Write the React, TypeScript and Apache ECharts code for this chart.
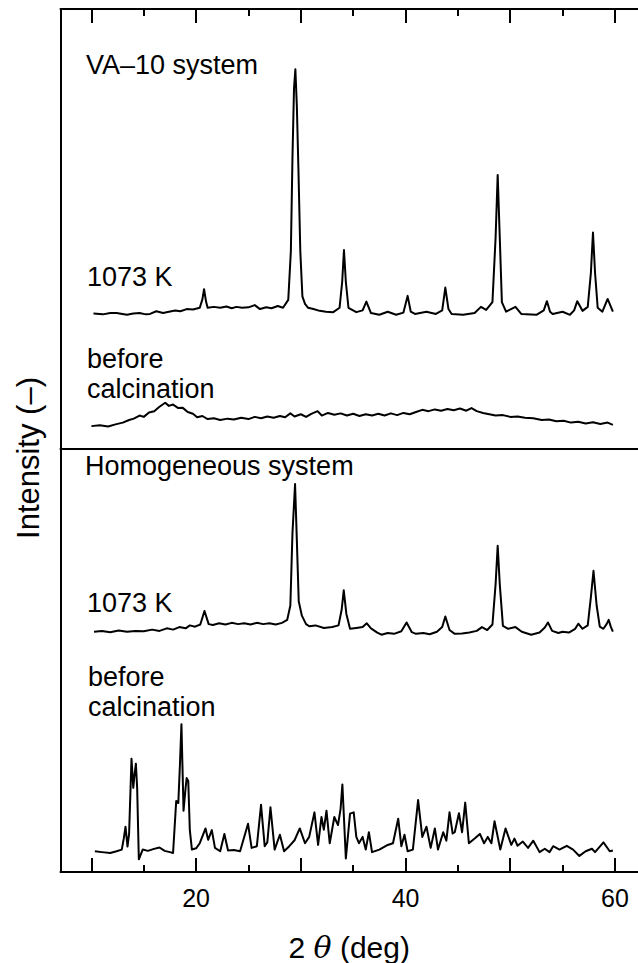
import React, { useEffect, useRef } from "react";
import * as echarts from "echarts";

// ---- data (2θ in deg, intensity in arbitrary panel units 0..100) ----
const va1073: [number, number][] = [
  [10.2, 30.8], [11.1, 30.6], [11.8, 30.9], [12.4, 30.9], [13.4, 30.5], [14.0, 30.8], [14.6, 30.9],
  [15.2, 30.6], [15.6, 30.7], [16.2, 31.3], [16.85, 30.9], [17.4, 31.2], [18.0, 31.5], [18.5, 31.3],
  [19.1, 31.8], [19.7, 31.7], [20.35, 32.1], [20.6, 34], [20.76, 36.3], [20.95, 33.5], [21.1, 32.1],
  [21.7, 32.3], [22.3, 32.1], [22.9, 32.4], [23.4, 32.0], [23.85, 32.3], [24.4, 32.1], [25.0, 32.2],
  [25.6, 32.7], [26.1, 31.8], [26.7, 32.2], [27.2, 32.0], [27.8, 32.5], [28.3, 32.1], [28.8, 33.9],
  [29.05, 45], [29.2, 66], [29.35, 82], [29.48, 86.3], [29.62, 78], [29.77, 63.7], [29.95, 45],
  [30.15, 34.7], [30.4, 33.0], [30.7, 32.1], [31.2, 31.8], [31.8, 31.4], [32.4, 31.2], [33.1, 31.1],
  [33.7, 32.1], [33.95, 38], [34.12, 45.2], [34.3, 38], [34.55, 32.1], [35.3, 31.1], [35.9, 31.5],
  [36.26, 33.5], [36.7, 30.9], [37.5, 30.5], [38.3, 31.2], [39.1, 30.5], [39.8, 31.0], [40.2, 34.8],
  [40.5, 31.2], [40.9, 30.7], [42.0, 31.2], [42.9, 30.7], [43.5, 31.5], [43.8, 36.7], [44.1, 31.8],
  [44.4, 30.7], [45.5, 30.5], [46.6, 30.9], [47.2, 32.3], [47.7, 31.6], [48.3, 33.4], [48.6, 48],
  [48.8, 62.3], [49.0, 48], [49.2, 33.4], [49.6, 31.2], [50.5, 32.3], [51.05, 30.7], [52.5, 30.5],
  [53.2, 31.5], [53.5, 33.6], [53.8, 31.2], [54.05, 30.7], [55.0, 31.2], [55.7, 30.5], [56.1, 31.5],
  [56.4, 33.6], [56.9, 31.4], [57.4, 32.3], [57.7, 40], [57.9, 49.2], [58.1, 40], [58.35, 32.1],
  [58.8, 31.2], [59.3, 34.1], [59.8, 31.2],
];

const vaBefore: [number, number][] = [
  [10.0, 5.2], [10.8, 5.4], [11.6, 5.1], [12.3, 5.6], [13.0, 6.0], [13.6, 6.6], [14.05, 6.9],
  [14.6, 7.6], [15.0, 7.3], [15.5, 8.3], [16.0, 8.6], [16.5, 9.6], [17.05, 10.5], [17.4, 9.8],
  [17.8, 10.1], [18.3, 9.3], [18.7, 9.4], [19.2, 8.4], [19.7, 8.0], [20.1, 7.2], [20.6, 7.5],
  [21.1, 6.8], [21.7, 7.0], [22.3, 6.6], [23.0, 6.9], [23.6, 6.7], [24.3, 7.1], [25.0, 6.8],
  [25.6, 7.3], [26.2, 7.0], [26.8, 7.4], [27.4, 7.1], [28.0, 7.5], [28.5, 7.2], [29.0, 8.1],
  [29.4, 7.4], [30.0, 7.9], [30.5, 7.3], [31.0, 8.0], [31.6, 8.6], [32.0, 7.6], [32.6, 8.2],
  [33.2, 7.8], [33.8, 8.1], [34.4, 7.6], [35.0, 8.0], [35.6, 7.5], [36.2, 7.9], [36.8, 7.6],
  [37.4, 8.0], [38.0, 7.6], [38.6, 8.1], [39.2, 7.7], [39.8, 8.2], [40.4, 7.9], [41.0, 8.4],
  [41.6, 8.9], [42.2, 8.6], [42.8, 9.0], [43.4, 8.7], [44.0, 9.1], [44.6, 8.8], [45.2, 9.2],
  [45.8, 8.7], [46.3, 9.3], [46.8, 8.6], [47.4, 8.2], [48.0, 7.9], [48.6, 7.6], [49.3, 7.7],
  [50.0, 7.3], [50.7, 7.4], [51.4, 7.1], [52.2, 7.0], [53.0, 6.6], [53.7, 6.7], [54.4, 6.3],
  [55.1, 6.4], [55.8, 6.0], [56.5, 6.2], [57.2, 5.8], [57.9, 6.1], [58.6, 5.7], [59.3, 6.0],
  [59.8, 5.5],
];

const homo1073: [number, number][] = [
  [10.25, 56.8], [11.0, 57.0], [11.8, 56.7], [12.6, 57.1], [13.4, 56.8], [14.2, 57.0], [15.0, 56.9],
  [15.8, 57.3], [16.5, 57.0], [17.2, 57.6], [17.8, 57.3], [18.4, 57.9], [19.0, 57.6], [19.4, 58.3],
  [19.9, 58.0], [20.4, 58.5], [20.8, 61.7], [21.2, 58.6], [21.6, 58.4], [22.2, 58.8], [22.8, 58.5],
  [23.4, 58.9], [24.0, 58.6], [24.6, 58.8], [25.2, 58.5], [25.8, 58.9], [26.4, 58.6], [27.0, 58.8],
  [27.6, 58.5], [28.2, 58.9], [28.7, 59.6], [29.0, 63], [29.2, 80], [29.45, 91.7], [29.6, 80],
  [29.8, 64], [30.1, 60.6], [30.5, 58.6], [30.8, 58.1], [31.4, 58.3], [32.2, 57.7], [33.0, 57.9],
  [33.6, 58.3], [33.9, 62], [34.1, 66.6], [34.35, 61], [34.7, 57.5], [35.3, 57.7], [35.9, 57.9],
  [36.3, 58.8], [36.7, 57.6], [37.3, 56.6], [37.7, 56.1], [38.3, 56.5], [38.9, 56.3], [39.6, 56.9],
  [40.1, 59.0], [40.6, 56.7], [41.0, 56.3], [41.7, 56.5], [42.3, 56.2], [43.0, 56.8], [43.5, 57.9],
  [43.8, 60.4], [44.2, 57.2], [44.7, 56.3], [45.4, 56.4], [46.1, 56.6], [46.8, 57.0], [47.3, 57.9],
  [47.8, 57.2], [48.3, 58.5], [48.6, 68], [48.8, 77.1], [49.0, 68], [49.3, 58.2], [49.8, 57.5],
  [50.5, 57.9], [51.1, 56.8], [52.0, 56.1], [52.8, 56.6], [53.3, 57.8], [53.6, 59.0], [54.0, 57.0],
  [54.6, 56.5], [55.0, 56.8], [55.6, 56.6], [56.2, 57.5], [56.5, 58.7], [56.9, 57.5], [57.4, 58.3],
  [57.7, 65], [57.95, 71.2], [58.25, 63], [58.55, 58.0], [58.9, 57.5], [59.2, 58.6], [59.4, 59.6],
  [59.6, 58.0], [59.8, 56.8],
];

const homoBefore: [number, number][] = [
  [10.33, 4.9], [11.0, 4.7], [11.8, 4.5], [12.4, 4.9], [12.9, 5.3], [13.1, 8], [13.26, 10.7],
  [13.45, 6], [13.6, 9], [13.83, 26.8], [14.0, 19.9], [14.12, 23], [14.25, 25.6], [14.37, 19.9],
  [14.53, 3.0], [14.9, 5.3], [15.4, 5.0], [15.9, 5.4], [16.5, 5.8], [17.0, 5.0], [17.5, 4.7],
  [17.8, 4.5], [18.1, 16.8], [18.3, 16.3], [18.45, 25], [18.6, 34.9], [18.8, 14.5], [19.0, 20],
  [19.1, 22.2], [19.25, 21.5], [19.4, 9.9], [19.6, 5.3], [20.0, 5.6], [20.35, 6.8], [20.9, 10.3],
  [21.15, 7.6], [21.5, 9.9], [21.8, 5.7], [22.3, 4.9], [22.7, 9.0], [23.05, 5.1], [23.6, 5.2],
  [24.2, 4.9], [24.96, 11.4], [25.3, 5.7], [25.8, 6.1], [26.2, 15.9], [26.55, 6.1], [26.8, 7],
  [27.1, 15.3], [27.5, 5.3], [28.0, 8.8], [28.4, 4.9], [28.9, 6.1], [29.4, 7.5], [29.9, 10.3],
  [30.4, 6.8], [30.8, 8.3], [31.3, 14.1], [31.65, 6.4], [31.97, 13.0], [32.2, 10], [32.45, 14.5],
  [32.76, 6.8], [33.2, 13.0], [33.55, 11.1], [33.8, 15], [33.97, 20.7], [34.3, 3.2], [34.7, 13.8],
  [35.05, 14.1], [35.3, 8.3], [35.55, 6.8], [35.9, 8.3], [36.2, 5.3], [36.5, 9.4], [36.8, 4.7],
  [37.5, 5.3], [38.3, 6.4], [38.8, 6.8], [39.3, 12.6], [39.6, 6.1], [39.9, 8.8], [40.2, 4.9],
  [40.7, 5.3], [41.2, 17.0], [41.6, 8.3], [42.0, 10.7], [42.4, 5.7], [42.8, 10.3], [43.1, 5.3],
  [43.6, 9.4], [43.9, 7.4], [44.2, 14.1], [44.5, 9.1], [44.7, 9.4], [45.1, 13.9], [45.4, 9.4],
  [45.7, 16.4], [46.05, 6.8], [46.6, 7.9], [47.1, 9.0], [47.5, 6.8], [47.85, 8.3], [48.2, 6.8],
  [48.5, 12.0], [49.05, 5.3], [49.55, 10.3], [50.1, 6.4], [50.4, 7.9], [50.7, 6.2], [51.2, 7.2],
  [51.7, 5.7], [52.2, 7.4], [52.8, 4.7], [53.3, 5.5], [53.75, 4.7], [54.1, 6.1], [54.7, 5.3],
  [55.4, 6.2], [56.0, 5.3], [56.6, 3.8], [57.2, 4.9], [57.8, 5.5], [58.1, 4.7], [58.9, 7.0],
  [59.5, 4.9], [59.8, 5.1],
];

const majorTicks = [10, 20, 30, 40, 50, 60];
const minorTicks = [15, 25, 35, 45, 55];
const tickLabels = [20, 40, 60];

const FONT = '"Liberation Sans", Arial, Helvetica, sans-serif';

export default function App() {
  const ref = useRef<HTMLDivElement>(null);
  useEffect(() => {
    if (!ref.current) return;
    const chart = echarts.init(ref.current, undefined, { renderer: "svg" });
    const X_MIN = 7.05;
    const X_MAX = 62.2;
    const lineCol = "#000";
    const baseX = (grid: number, pos: "top" | "bottom") => ({
      type: "value" as const,
      gridIndex: grid,
      position: pos,
      min: X_MIN,
      max: X_MAX,
      splitLine: { show: false },
      axisLabel: { show: false },
      axisLine: { show: false, onZero: false, lineStyle: { color: lineCol, width: 2 } },
      axisTick: { show: false },
    });
    const majorTick = (len: number) => ({
      show: true, inside: true, length: len, customValues: majorTicks,
      lineStyle: { color: lineCol, width: 2 },
    });
    const minorTick = (len: number) => ({
      show: true, inside: true, length: len, customValues: minorTicks,
      lineStyle: { color: lineCol, width: 2 },
    });
    const lineSeries = (data: [number, number][], xi: number, yi: number) => ({
      type: "line" as const,
      data,
      xAxisIndex: xi,
      yAxisIndex: yi,
      showSymbol: false,
      symbol: "none",
      lineStyle: { color: lineCol, width: 2, join: "round" },
      silent: true,
    });
    const txt = (text: string, x: number, y: number) => ({
      type: "text" as const,
      x, y,
      style: { text, fontSize: 27, fontFamily: FONT, fill: "#000", align: "left", verticalAlign: "middle" },
    });
    chart.setOption({
      animation: false,
      backgroundColor: "#fff",
      grid: [
        { left: 60.5, top: 9, width: 578.2, height: 440 },
        { left: 60.5, top: 449, width: 578.2, height: 434.5 },
      ],
      xAxis: [
        { ...baseX(0, "top"), axisLine: { show: true, onZero: false, lineStyle: { color: lineCol, width: 2 } }, axisTick: majorTick(14) },
        { ...baseX(0, "top"), axisTick: minorTick(7) },
        { ...baseX(0, "bottom"), axisLine: { show: true, onZero: false, lineStyle: { color: lineCol, width: 2 } } },
        {
          ...baseX(1, "bottom"),
          axisLine: { show: true, onZero: false, lineStyle: { color: lineCol, width: 2 } },
          axisTick: majorTick(14),
          axisLabel: { show: true, customValues: tickLabels, fontSize: 25, fontFamily: FONT, color: "#000", margin: 13 },
          name: "2 {t|θ} (deg)",
          nameLocation: "middle",
          nameGap: 60,
          nameTextStyle: {
            fontSize: 30, fontFamily: FONT, color: "#000",
            rich: { t: { fontSize: 30, fontStyle: "italic", fontFamily: "DejaVu Serif", color: "#000" } },
          },
        },
        { ...baseX(1, "bottom"), axisTick: minorTick(7) },
      ],
      yAxis: [0, 1].map((g) => ({
        type: "value" as const,
        gridIndex: g,
        min: 0,
        max: 100,
        splitLine: { show: false },
        axisLabel: { show: false },
        axisTick: { show: false },
        axisLine: { show: true, onZero: false, lineStyle: { color: lineCol, width: 2 } },
      })),
      series: [
        lineSeries(va1073, 0, 0),
        lineSeries(vaBefore, 0, 0),
        lineSeries(homo1073, 3, 1),
        lineSeries(homoBefore, 3, 1),
      ],
      graphic: [
        txt("VA\u201310 system", 86, 64.5),
        txt("1073 K", 87, 276.5),
        txt("before", 87, 359),
        txt("calcination", 87, 389),
        txt("Homogeneous system", 85, 465.5),
        txt("1073 K", 87, 603),
        txt("before", 88, 677),
        txt("calcination", 88, 707),
        {
          type: "text",
          x: 28,
          y: 458,
          rotation: Math.PI / 2,
          style: { text: "Intensity (\u2013)", fontSize: 31, fontFamily: FONT, fill: "#000", align: "center", verticalAlign: "middle" },
        },
      ],
    });
    return () => chart.dispose();
  }, []);
  return <div ref={ref} style={{ position: "absolute", left: 0, top: 0, width: 638, height: 963 }} />;
}
